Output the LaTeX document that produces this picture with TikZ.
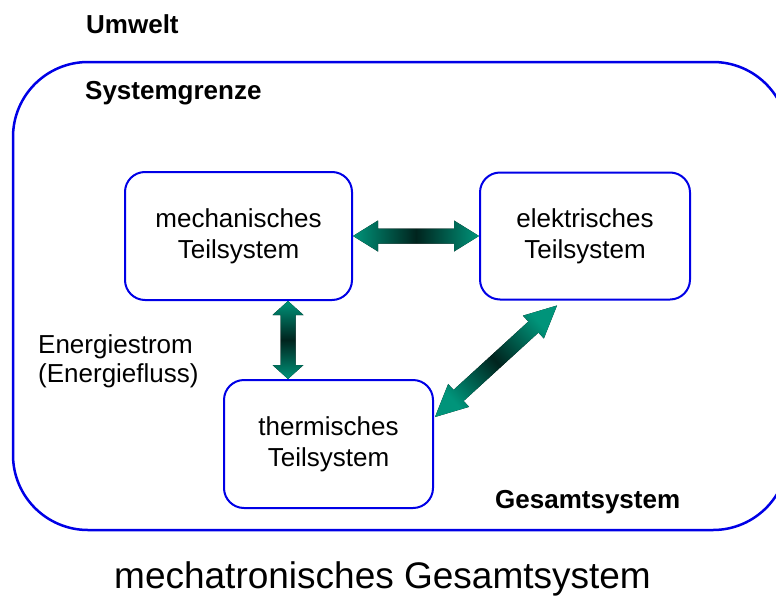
\documentclass[tikz,border=0pt]{standalone}
\usepackage{fontspec}
\setmainfont{Liberation Sans}
\usetikzlibrary{positioning,calc}

\definecolor{grenzblau}{RGB}{0,0,230}
\definecolor{pfeilteal}{RGB}{0,148,122}
\definecolor{pfeildunkel}{RGB}{0,36,30}

% #1 Spitzenlaenge, #2 von, #3 nach, #4 shading angle
\newcommand{\energiepfeil}[4][25pt]{%
	\fill[pfeil, shading angle=#4] (#2)
		-- ($(#2)!#1!(#3)!15.5pt!90:(#3)$) -- ($(#2)!#1!(#3)!7.5pt!90:(#3)$)
		-- ($(#3)!#1!(#2)!7.5pt!-90:(#2)$) -- ($(#3)!#1!(#2)!15.5pt!-90:(#2)$)
		-- (#3)
		-- ($(#3)!#1!(#2)!15.5pt!90:(#2)$) -- ($(#3)!#1!(#2)!7.5pt!90:(#2)$)
		-- ($(#2)!#1!(#3)!7.5pt!-90:(#3)$) -- ($(#2)!#1!(#3)!15.5pt!-90:(#3)$)
		-- cycle;
}

\begin{document}
\begin{tikzpicture}[x=1pt,y=-1pt,
	teilsystem/.style={draw=grenzblau,line width=2pt,rounded corners=20pt,align=center,font=\fontsize{26}{31}\selectfont},
	fett/.style={inner sep=0pt,anchor=base west,font=\bfseries\fontsize{26}{31}\selectfont},
	pfeil/.style={left color=pfeilteal,right color=pfeilteal,middle color=pfeildunkel}]
			
			\clip (0,0) rectangle (776,597);
			
			\draw[grenzblau,line width=2.5pt,rounded corners=75pt] (13,62) rectangle (788,530);
			
			\node[fett] (umwelt) at (86,33) {Umwelt};
			\node[fett] (grenze) at (85,99) {Systemgrenze};
			\node[fett] (gesamt) at (495,508) {Gesamtsystem};
			
			\node[teilsystem,minimum width=227pt,minimum height=128pt] (mech) at (238.5,236) {mechanisches\\Teilsystem};
			\node[teilsystem,minimum width=210pt,minimum height=127pt,right=126pt of mech] (elek) {elektrisches\\Teilsystem};
			\node[teilsystem,minimum width=209pt,minimum height=128pt] (therm) at (328.5,444) {thermisches\\Teilsystem};
			
			\node[inner sep=0pt,anchor=west,align=left,font=\fontsize{26}{29}\selectfont] (strom) at (38,361.5) {Energiestrom\\(Energiefluss)};
			
			\node[inner sep=0pt,anchor=base west,font=\fontsize{37}{44}\selectfont] (titel) at (114,588) {mechatronisches Gesamtsystem};
			
			\coordinate (vmitte) at ($(mech.south east)!0.5!(therm.north west)$);
			\coordinate (d1) at ($(elek.south)+(-28,5)$);
			\coordinate (d2) at ($(therm.east)+(1,-27)$);
			
			\energiepfeil{mech.east}{elek.west}{90}
			\energiepfeil[14pt]{vmitte |- mech.south}{vmitte |- therm.north}{0}
			\energiepfeil[32pt]{d2}{d1}{-47.4}
			\end{tikzpicture}
\end{document}
